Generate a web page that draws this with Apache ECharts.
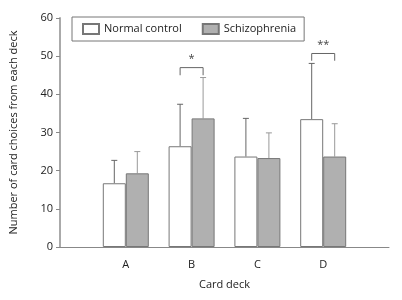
<!DOCTYPE html>
<html>
<head>
<meta charset="utf-8">
<script src="https://cdn.jsdelivr.net/npm/echarts@6/dist/echarts.min.js"></script>
<style>
  html, body { margin: 0; padding: 0; background: #fff; }
  #chart { width: 402px; height: 300px; }
</style>
</head>
<body>
<div id="chart"></div>
<script>
// padded with empty slots so the axis runs past A and D
const decks = ['', 'A', 'B', 'C', 'D', ''];
const normalMean = ['-', 16.7, 26.4, 23.7, 33.5, '-'];
const normalUpper = ['-', 22.7, 37.4, 33.7, 48.1, '-'];
const schizoMean = ['-', 19.3, 33.7, 23.3, 23.7, '-'];
const schizoUpper = ['-', 25.0, 44.4, 29.9, 32.3, '-'];
// significance brackets: deck index, leg bottom, bracket top, mark
const sigDeck = [2, 4];
const sigLow = [45.0, 48.8];
const sigHigh = [47.0, 50.7];
const sigMark = ['*', '**'];

const font = 'Open Sans';
const barW = 23;

const chart = echarts.init(document.getElementById('chart'));

function errData(mean, upper) {
  const out = [];
  for (let i = 0; i < decks.length; i++) {
    if (mean[i] !== '-') out.push([i, mean[i], upper[i]]);
  }
  return out;
}

function errorBar(offset, color) {
  return function (params, api) {
    const base = api.coord([api.value(0), api.value(1)]);
    const top = api.coord([api.value(0), api.value(2)]);
    const x = base[0] + offset;
    return {
      type: 'group',
      children: [
        { type: 'line', shape: { x1: x, y1: base[1], x2: x, y2: top[1] }, style: { stroke: color, lineWidth: 1 } },
        { type: 'line', shape: { x1: x - 3, y1: top[1], x2: x + 3, y2: top[1] }, style: { stroke: color, lineWidth: 1 } }
      ]
    };
  };
}

const sigData = sigDeck.map((d, i) => [d, sigLow[i], sigHigh[i], sigMark[i]]);

chart.setOption({
  animation: false,
  grid: { left: 59, right: 13, top: 18, bottom: 53 },
  legend: {
    left: 72,
    top: 17,
    orient: 'horizontal',
    icon: 'rect',
    padding: [6, 8, 6, 10],
    itemGap: 20,
    itemWidth: 16,
    itemHeight: 10,
    borderColor: '#777',
    borderWidth: 1,
    textStyle: { fontFamily: font, fontSize: 11, color: '#222' },
    data: ['Normal control', 'Schizophrenia']
  },
  xAxis: {
    type: 'category',
    data: decks,
    boundaryGap: false,
    name: 'Card deck',
    nameLocation: 'middle',
    nameGap: 32,
    nameTextStyle: { fontFamily: font, fontSize: 11, color: '#222' },
    axisLine: { lineStyle: { color: '#888', width: 1 } },
    axisTick: { show: false },
    axisLabel: { fontFamily: font, fontSize: 11, color: '#222', margin: 12, interval: 0 },
    splitLine: { show: false }
  },
  yAxis: {
    type: 'value',
    min: 0,
    max: 60,
    interval: 10,
    name: 'Number of card choices from each deck',
    nameLocation: 'middle',
    nameGap: 41,
    nameTextStyle: { fontFamily: font, fontSize: 11, color: '#222' },
    axisLine: { show: true, lineStyle: { color: '#aaa', width: 2 } },
    axisTick: { show: true, length: 4, lineStyle: { color: '#888' } },
    axisLabel: { fontFamily: font, fontSize: 11, color: '#222', margin: 7 },
    splitLine: { show: false }
  },
  series: [
    {
      name: 'Normal control',
      type: 'bar',
      data: normalMean,
      barWidth: barW,
      barGap: '0%',
      itemStyle: { color: '#fff', borderColor: '#777', borderWidth: 1 }
    },
    {
      name: 'Schizophrenia',
      type: 'bar',
      data: schizoMean,
      barWidth: barW,
      barGap: '0%',
      itemStyle: { color: '#b0b0b0', borderColor: '#777', borderWidth: 1 }
    },
    {
      type: 'custom',
      data: errData(normalMean, normalUpper),
      renderItem: errorBar(-barW / 2, '#666'),
      z: 1
    },
    {
      type: 'custom',
      data: errData(schizoMean, schizoUpper),
      renderItem: errorBar(barW / 2, '#999'),
      z: 1
    },
    {
      type: 'custom',
      data: sigData,
      renderItem: function (params, api) {
        const low = api.coord([api.value(0), api.value(1)]);
        const high = api.coord([api.value(0), api.value(2)]);
        const xl = low[0] - barW / 2;
        const xr = low[0] + barW / 2;
        return {
          type: 'group',
          children: [
            {
              type: 'polyline',
              shape: { points: [[xl, low[1]], [xl, high[1]], [xr, high[1]], [xr, low[1]]] },
              style: { stroke: '#666', lineWidth: 1, fill: null }
            },
            {
              type: 'text',
              style: {
                text: sigMark[params.dataIndex],
                x: low[0], y: high[1] - 3,
                align: 'center', verticalAlign: 'bottom',
                font: '11px ' + font, fill: '#444'
              }
            }
          ]
        };
      }
    }
  ]
});
</script>
</body>
</html>
